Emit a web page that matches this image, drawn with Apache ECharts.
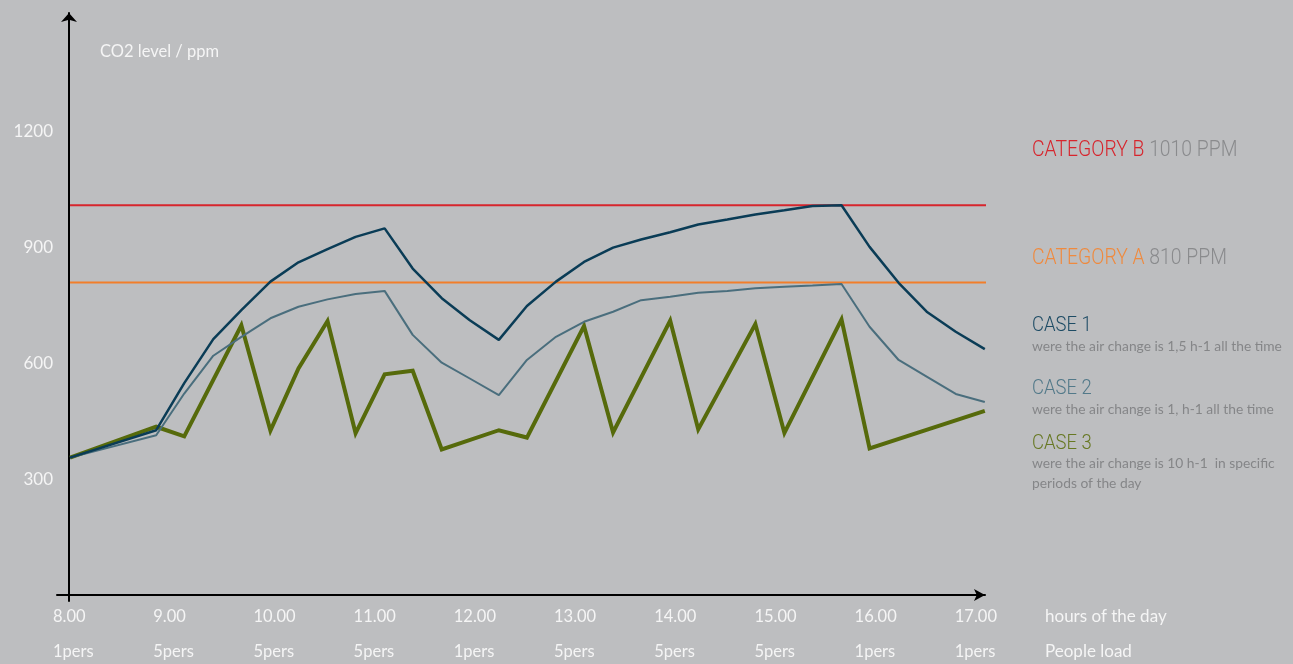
<!DOCTYPE html>
<html>
<head>
<meta charset="utf-8">
<title>CO2 level during the day</title>
<script src="https://cdn.jsdelivr.net/npm/echarts@6/dist/echarts.min.js"></script>
<style>
  html, body { margin: 0; padding: 0; background: #bdbec0; }
  #chart { width: 1293px; height: 664px; }
</style>
</head>
<body>
<div id="chart"></div>
<script>
// Hour ticks on the time axis and the matching occupancy row
const tickHours = [8, 9, 10, 11, 12, 13, 14, 15, 16, 17];
const hourLabels = ['8.00', '9.00', '10.00', '11.00', '12.00', '13.00', '14.00', '15.00', '16.00', '17.00'];
const loadLabels = ['1pers', '5pers', '5pers', '5pers', '1pers', '5pers', '5pers', '5pers', '1pers', '1pers'];
const ppmTicks = [300, 600, 900, 1200];

// Sampling times (decimal hours) for case 1 and case 2
const hours = [8.00, 8.86, 9.14, 9.43, 9.71, 10.00, 10.28, 10.57, 10.85, 11.14, 11.42, 11.71,
  11.99, 12.28, 12.56, 12.85, 13.13, 13.42, 13.70, 13.99, 14.27, 14.56, 14.84, 15.13,
  15.41, 15.70, 15.98, 16.27, 16.55, 16.84, 17.13];

// CO2 (ppm), air change 1,5 h-1 all the time
const case1 = [356, 427, 549, 663, 738, 812, 862, 896, 928, 950, 846, 769,
  712, 661, 749, 812, 863, 900, 921, 940, 960, 973, 986, 997,
  1008, 1010, 902, 809, 734, 682, 637];

// CO2 (ppm), air change 1 h-1 all the time
const case2 = [356, 414, 522, 620, 669, 717, 747, 766, 780, 788, 674, 602,
  561, 518, 609, 669, 708, 734, 764, 773, 783, 788, 795, 799,
  802, 806, 695, 609, 566, 521, 500];

// CO2 (ppm), air change 10 h-1 in specific periods of the day
const case3Hours = [8.00, 8.86, 9.14, 9.71, 10.00, 10.28, 10.57, 10.85, 11.14, 11.42, 11.71,
  12.28, 12.56, 13.13, 13.42, 13.99, 14.27, 14.84, 15.13, 15.70, 15.98, 17.13];
const case3 = [356, 436, 411, 699, 426, 587, 710, 419, 572, 581, 377,
  427, 408, 697, 421, 711, 429, 702, 420, 714, 380, 477];

// Indoor climate category limits (ppm) and the span they are drawn over
const categoryB = 1010;
const categoryA = 810;
const limitSpan = [8.0, 17.15];

const COLORS = {
  bg: '#bdbec0',
  red: '#d7252d',
  orange: '#f27e2a',
  case1: '#0a3c56',
  case2: '#4a6e7d',
  case3: '#566a0b',
  white: '#f5f5f5',
  grey: '#858688'
};

const pairs = (xs, ys) => xs.map((x, i) => [x, ys[i]]);

const chart = echarts.init(document.getElementById('chart'), null, { renderer: 'canvas' });

const condensed = { fontFamily: 'Roboto', fontWeight: 300 };
const subStyle = { fill: COLORS.grey, fontFamily: 'Lato', fontSize: 13.8, verticalAlign: 'middle' };

const option = {
  backgroundColor: COLORS.bg,
  animation: false,
  title: {
    text: 'CO2 level / ppm',
    left: 100,
    top: 43,
    padding: 0,
    textStyle: { color: COLORS.white, fontFamily: 'Lato', fontSize: 16.5, fontWeight: 'normal' }
  },
  grid: { left: 57, right: 308, top: 13, bottom: 63, outerBoundsMode: 'none', containLabel: false },
  xAxis: {
    type: 'value',
    min: 7.87,
    max: 17.132,
    splitLine: { show: false },
    axisTick: { show: false },
    axisLine: {
      onZero: true,
      symbol: ['none', 'arrow'],
      symbolSize: [9, 11],
      lineStyle: { color: '#000', width: 2 }
    },
    axisLabel: {
      customValues: tickHours,
      margin: -2,
      align: 'center',
      formatter: function (v) {
        const i = tickHours.indexOf(Math.round(v));
        if (i < 0) return '';
        return '{t|' + hourLabels[i] + '}\n{t|' + loadLabels[i] + '}';
      },
      rich: {
        t: { width: 34, align: 'left', color: COLORS.white, fontFamily: 'Lato', fontSize: 16.5, lineHeight: 35 }
      }
    },
    name: 'hours of the day\nPeople load',
    nameLocation: 'end',
    nameGap: 60,
    nameTextStyle: {
      color: COLORS.white,
      fontFamily: 'Lato',
      fontSize: 17,
      lineHeight: 35,
      align: 'left',
      verticalAlign: 'top',
      padding: [4, 0, 0, 0]
    }
  },
  yAxis: {
    type: 'value',
    min: -15.5,
    max: 1508,
    offset: -12,
    splitLine: { show: false },
    axisTick: { show: false },
    axisLine: {
      show: true,
      onZero: false,
      symbol: ['none', 'arrow'],
      symbolSize: [12, 9],
      lineStyle: { color: '#000', width: 2 }
    },
    axisLabel: {
      customValues: ppmTicks,
      margin: 16,
      color: COLORS.white,
      fontFamily: 'Lato',
      fontSize: 17,
      formatter: v => String(v)
    }
  },
  series: [
    {
      name: 'Category B',
      type: 'line',
      data: limitSpan.map(h => [h, categoryB]),
      symbol: 'none',
      clip: false,
      lineStyle: { color: COLORS.red, width: 2 },
      z: 1
    },
    {
      name: 'Category A',
      type: 'line',
      data: limitSpan.map(h => [h, categoryA]),
      symbol: 'none',
      clip: false,
      lineStyle: { color: COLORS.orange, width: 2 },
      z: 1
    },
    {
      name: 'Case 3',
      type: 'line',
      data: pairs(case3Hours, case3),
      symbol: 'none',
      clip: false,
      lineStyle: { color: COLORS.case3, width: 4, join: 'miter' },
      z: 2
    },
    {
      name: 'Case 2',
      type: 'line',
      data: pairs(hours, case2),
      symbol: 'none',
      clip: false,
      lineStyle: { color: COLORS.case2, width: 2 },
      z: 3
    },
    {
      name: 'Case 1',
      type: 'line',
      data: pairs(hours, case1),
      symbol: 'none',
      clip: false,
      lineStyle: { color: COLORS.case1, width: 2.5 },
      z: 4
    }
  ],
  graphic: [
    {
      type: 'text', x: 1032, y: 150, scaleX: 0.88,
      style: {
        text: '{r|CATEGORY B}{g| ' + categoryB + ' PPM}',
        verticalAlign: 'middle',
        rich: {
          r: Object.assign({ fill: COLORS.red, fontSize: 22 }, condensed),
          g: Object.assign({ fill: '#8a8b8d', fontSize: 22 }, condensed)
        }
      }
    },
    {
      type: 'text', x: 1032, y: 258, scaleX: 0.88,
      style: {
        text: '{o|CATEGORY A}{g| ' + categoryA + ' PPM}',
        verticalAlign: 'middle',
        rich: {
          o: Object.assign({ fill: '#ef8a3e', fontSize: 22 }, condensed),
          g: Object.assign({ fill: '#8a8b8d', fontSize: 22 }, condensed)
        }
      }
    },
    {
      type: 'text', x: 1032, y: 326, scaleX: 0.88,
      style: Object.assign({ text: 'CASE 1', fill: '#1d4b64', fontSize: 21, verticalAlign: 'middle' }, condensed)
    },
    {
      type: 'text', x: 1032, y: 347,
      style: Object.assign({ text: 'were the air change is 1,5 h-1 all the time' }, subStyle)
    },
    {
      type: 'text', x: 1032, y: 389, scaleX: 0.88,
      style: Object.assign({ text: 'CASE 2', fill: '#527989', fontSize: 21, verticalAlign: 'middle' }, condensed)
    },
    {
      type: 'text', x: 1032, y: 410,
      style: Object.assign({ text: 'were the air change is 1, h-1 all the time' }, subStyle)
    },
    {
      type: 'text', x: 1032, y: 444, scaleX: 0.88,
      style: Object.assign({ text: 'CASE 3', fill: '#677823', fontSize: 21, verticalAlign: 'middle' }, condensed)
    },
    {
      type: 'text', x: 1032, y: 464,
      style: Object.assign({ text: 'were the air change is 10 h-1  in specific' }, subStyle)
    },
    {
      type: 'text', x: 1032, y: 484,
      style: Object.assign({ text: 'periods of the day' }, subStyle)
    }
  ]
};

chart.setOption(option);
</script>
</body>
</html>
